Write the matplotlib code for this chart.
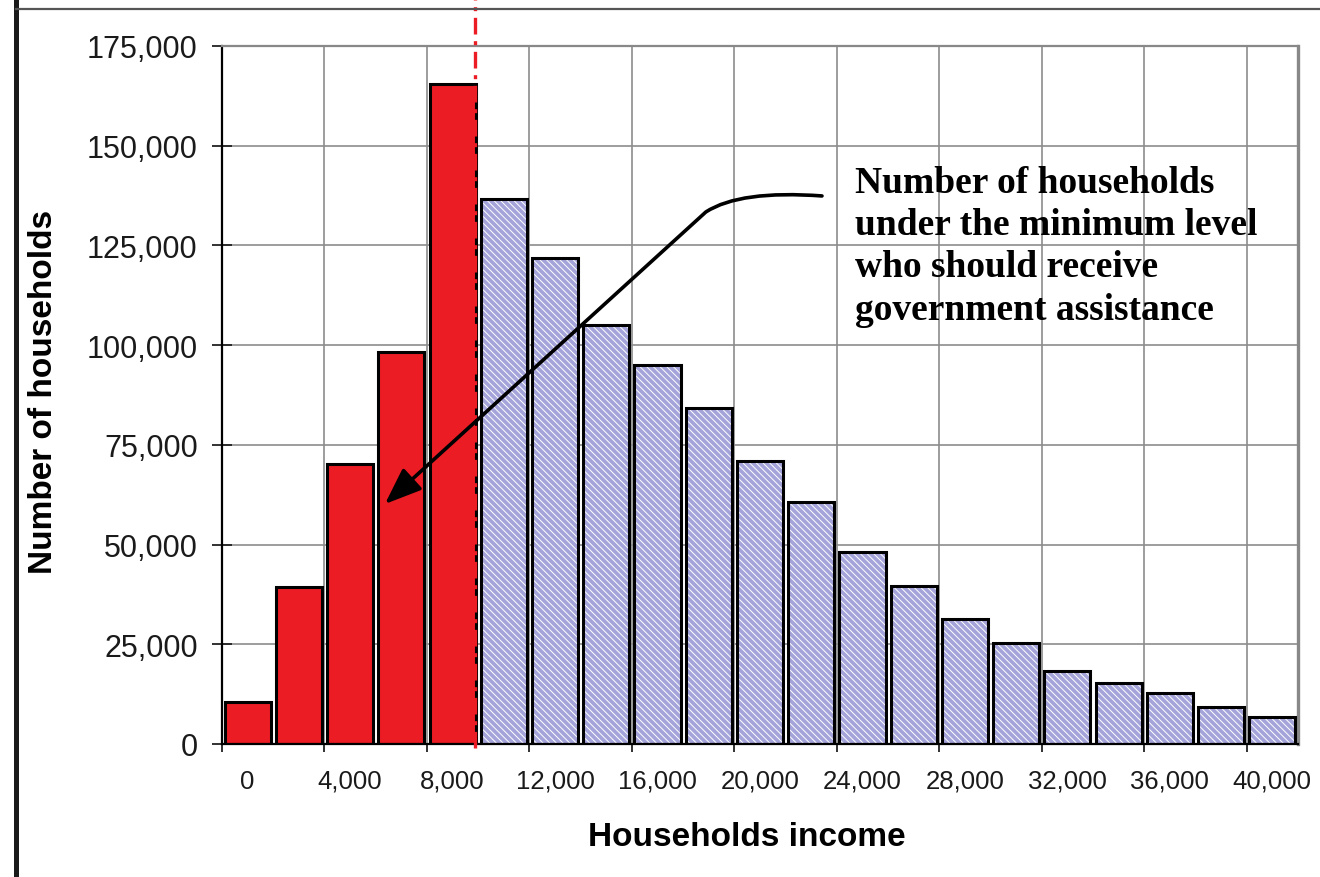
import matplotlib
matplotlib.use("Agg")
import matplotlib.pyplot as plt
from matplotlib.lines import Line2D
from matplotlib.path import Path
from matplotlib.patches import FancyArrowPatch
import numpy as np

# income brackets (lower bound of each 2,000 bin) and household counts
income = list(range(0, 40001, 2000))
households = [10500, 39300, 70200, 98300, 165400, 136600, 121800, 105000, 95000, 84200,
              71000, 60700, 48100, 39600, 31300, 25300, 18300, 15300, 12800, 9300, 6800]
minimum_level = 8880

x_ticks = list(range(0, 40001, 4000))
x_labels = ["{:,}".format(v) for v in x_ticks]
y_ticks = list(range(0, 175001, 25000))
y_labels = ["{:,}".format(v) for v in y_ticks]

note = ("Number of households\nunder the minimum level\n"
        "who should receive\ngovernment assistance")
# pointer from the note down to the red bars: (income, households)
arrow_pts = [(22420, 137400), (19220, 138900), (17890, 133400), (5360, 60170)]

RED = "#ec1c24"
BLUE = "#a4a4da"

plt.rcParams["font.family"] = ["Liberation Sans", "DejaVu Sans"]
plt.rcParams["hatch.linewidth"] = 0.7

fig = plt.figure(figsize=(13.2, 8.78), dpi=100, facecolor="white")
ax = fig.add_axes([0.1682, 0.1515, 0.8151, 0.795])

poor = [v < minimum_level for v in income]
cols = [RED if p else BLUE for p in poor]
hatch = [None if p else "\\\\\\\\\\" for p in poor]

bars = ax.bar(income, households, width=1800, color=cols, edgecolor="white",
              linewidth=0, zorder=2)
for b, h in zip(bars, hatch):
    if h:
        b.set_hatch(h)
ax.bar(income, households, width=1800, fill=False, edgecolor="black",
       linewidth=2.2, zorder=3)

# minimum level marker, running up past the plot frame
ax.plot([minimum_level, minimum_level], [-0.006, 1.07], color=RED, lw=2.4,
        linestyle=(0, (5, 2, 1.2, 2)), transform=ax.get_xaxis_transform(),
        clip_on=False, zorder=5)

ax.set_xlim(-1000, 41000)
ax.set_ylim(0, 175000)
ax.set_xticks(x_ticks)
ax.set_xticklabels(x_labels)
ax.set_xticks(np.arange(-1000, 41000, 4000), minor=True)
ax.set_yticks(y_ticks)
ax.set_yticklabels(y_labels)

ax.tick_params(axis="x", which="major", length=0, pad=18, labelsize=18.5,
               labelcolor="#1a1a1a")
ax.tick_params(axis="x", which="minor", length=6, width=1.3, direction="out",
               color="#222222")
ax.tick_params(axis="y", length=15, width=1.3, direction="inout", pad=10,
               labelsize=22, labelcolor="#1a1a1a", color="#222222")

ax.grid(True, axis="y", color="#8c8c8c", lw=1.2)
ax.grid(True, axis="x", which="minor", color="#8c8c8c", lw=1.2)
ax.set_axisbelow(True)

for side in ("left", "bottom"):
    ax.spines[side].set_color("black")
    ax.spines[side].set_linewidth(1.6)
ax.spines["top"].set_color("#888888")
ax.spines["top"].set_linewidth(1.6)
ax.spines["right"].set_color("#888888")
ax.spines["right"].set_linewidth(2.4)

ax.set_xlabel("Households income", fontsize=24, fontweight="bold", va="center")
ax.xaxis.set_label_coords(0.488, -0.133)
ax.set_ylabel("Number of households", fontsize=24, fontweight="bold", va="center")
ax.yaxis.set_label_coords(-0.166, 0.506)

ax.text(0.588, 0.830, note, transform=ax.transAxes, ha="left", va="top",
        fontsize=27, fontweight="bold", family=["Liberation Serif", "DejaVu Serif"],
        linespacing=1.27, zorder=6)

codes = [Path.MOVETO, Path.CURVE3, Path.CURVE3, Path.LINETO]
arrow = FancyArrowPatch(path=Path(arrow_pts, codes),
                        arrowstyle="-|>,head_length=0.9,head_width=0.35",
                        mutation_scale=25, lw=2.6, color="black", zorder=6)
ax.add_patch(arrow)

# page frame around the figure
fig.add_artist(Line2D([0.0121, 0.0121], [0, 1], color="#1a1a1a", lw=3.6))
fig.add_artist(Line2D([0.0121, 1], [0.9886, 0.9886], color="#555555", lw=1.6))

fig.savefig("out.png", dpi=100, facecolor="white")
